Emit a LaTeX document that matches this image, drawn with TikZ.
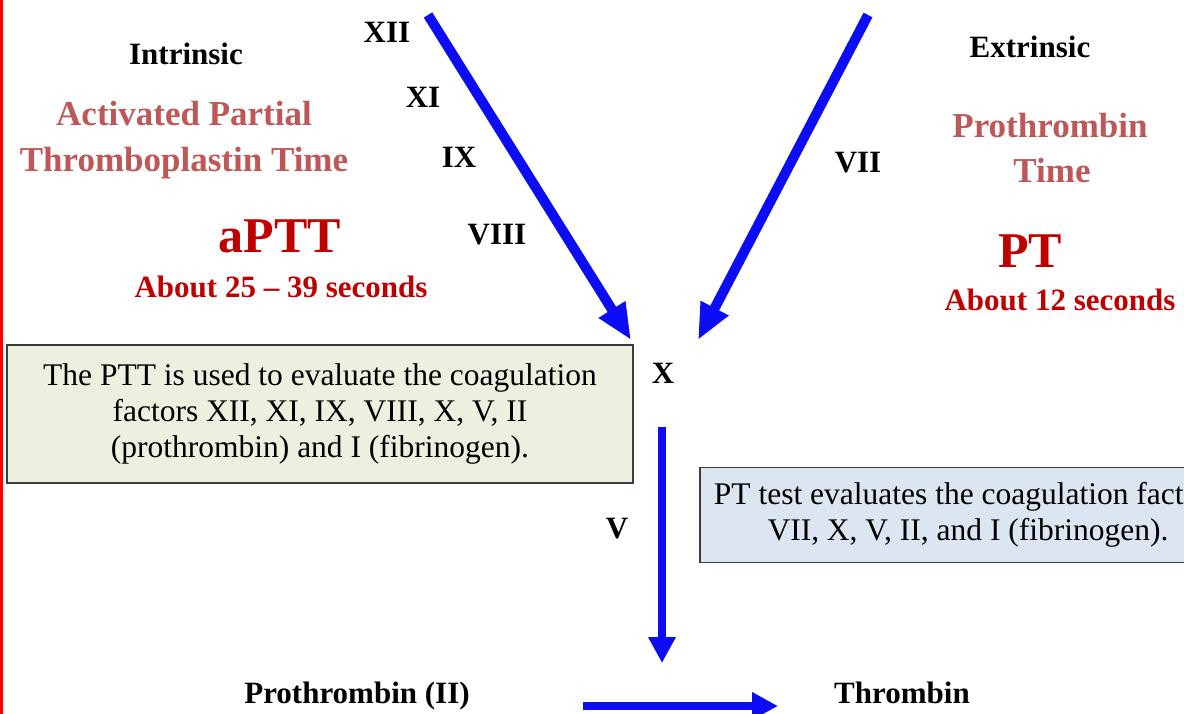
\documentclass[tikz,border=0pt]{standalone}
\usepackage{fontspec}
\setmainfont{Liberation Serif}
\usetikzlibrary{arrows.meta}

\definecolor{rosy}{RGB}{190,88,88}
\definecolor{deepred}{RGB}{192,0,0}
\definecolor{flowblue}{RGB}{12,12,245}
\definecolor{boxgreen}{RGB}{235,241,222}
\definecolor{boxblue}{RGB}{220,230,242}
\definecolor{boxedge}{RGB}{60,60,60}

\begin{document}
\begin{tikzpicture}[x=1pt,y=-1pt,
  lbl/.style={font=\fontsize{31}{36}\selectfont\bfseries, inner sep=0pt, anchor=base},
  testname/.style={font=\fontsize{35}{42}\selectfont\bfseries, text=rosy, inner sep=0pt, anchor=base},
  abbrev/.style={font=\fontsize{50}{60}\selectfont\bfseries, text=deepred, inner sep=0pt, anchor=base},
  timing/.style={lbl, text=deepred},
  infobox/.style={draw=boxedge, line width=1.5pt, font=\fontsize{31.5}{36}\selectfont,
    align=center, inner sep=0pt},
  flowdiag/.style={draw=flowblue, line width=10pt, -{Triangle[width=29pt,length=36pt]}},
  flowstraight/.style={draw=flowblue, line width=8.5pt, -{Triangle[width=26pt,length=26pt]}}
]
  % page area
  \fill[white] (0,0) rectangle (1184,714);
  \useasboundingbox (0,0) rectangle (1184,714);
  \clip (0,0) rectangle (1184,714);

  % intrinsic pathway labels
  \node[lbl] (intr) at (186,65) {Intrinsic};
  \node[testname] (aptt1) at (184,126) {Activated Partial};
  \node[testname] (aptt2) at (184,172) {Thromboplastin Time};
  \node[abbrev] (aptt) at (280,253) {aPTT};
  \node[timing] (apttTime) at (281,298) {About 25 – 39 seconds};

  \node[lbl] (fXII) at (387,43) {XII};
  \node[lbl] (fXI) at (423,108) {XI};
  \node[lbl] (fIX) at (459,168) {IX};
  \node[lbl] (fVIII) at (497,245) {VIII};

  % extrinsic pathway labels
  \node[lbl] (extr) at (1030,58) {Extrinsic};
  \node[testname] (pt1) at (1050,138) {Prothrombin};
  \node[testname] (pt2) at (1052,183) {Time};
  \node[abbrev] (pt) at (1030,268) {PT};
  \node[timing] (ptTime) at (1060,310) {About 12 seconds};
  \node[lbl] (fVII) at (858,173) {VII};

  % common pathway
  \node[lbl] (fX) at (663,383) {X};
  \node[lbl] (fV) at (617,538) {V};
  \node[lbl] (proII) at (357,703) {Prothrombin (II)};
  \node[lbl] (thromb) at (902,703) {Thrombin};

  % explanatory boxes
  \node[infobox, fill=boxgreen, minimum width=626pt, minimum height=138pt] (pttBox) at (320,414)
    {The PTT is used to evaluate the coagulation\\factors XII, XI, IX, VIII, X, V, II\\(prothrombin) and I (fibrinogen).};
  \node[infobox, fill=boxblue, minimum width=536pt, minimum height=95pt] (ptBox) at (968,515)
    {PT test evaluates the coagulation factors\\VII, X, V, II, and I (fibrinogen).};

  % arrow end points
  \coordinate (intrStart) at (428,15);
  \coordinate (intrEnd) at (631,340);
  \coordinate (extrStart) at (868,15);
  \coordinate (extrEnd) at (698,340);
  \coordinate (xStart) at (662,427);
  \coordinate (xEnd) at (662,663);
  \coordinate (convStart) at (583,706);
  \coordinate (convEnd) at (778,706);

  \draw[flowdiag] (intrStart) -- (intrEnd);
  \draw[flowdiag] (extrStart) -- (extrEnd);
  \draw[flowstraight] (xStart) -- (xEnd);
  \draw[flowstraight] (convStart) -- (convEnd);

  % left margin rule
  \fill[red] (0,0) rectangle (3,714);
\end{tikzpicture}
\end{document}
